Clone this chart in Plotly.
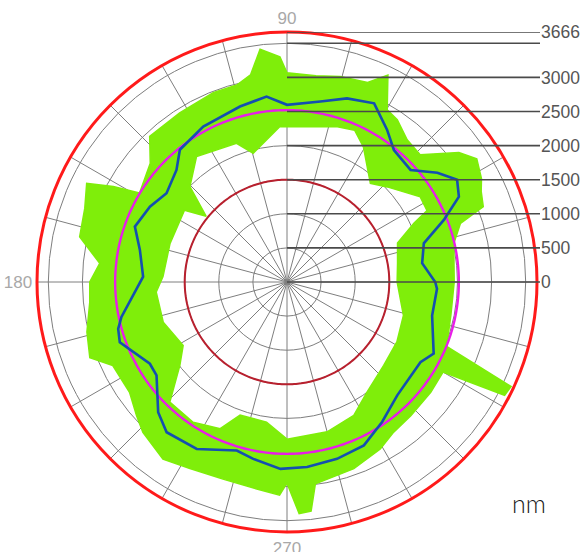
import numpy as np
import plotly.graph_objects as go

R_MAX = 3666
RADIAL_TICKS = [0, 500, 1000, 1500, 2000, 2500, 3000, 3500, 3666]
RADIAL_LABELS = ["0", "500", "1000", "1500", "2000", "2500", "3000", "", "3666"]
GRID_CIRCLES = [500, 1000, 1500, 2000, 2500, 3000, 3500]
ANGLE_LABELS = {90: "90", 180: "180", 270: "270"}

INNER_REF = 1500   # dark red reference circle
FIT_CIRCLE = 2520  # magenta fitted circle

# mean profile (blue)
blue_theta = [0, 7.9, 15.8, 21.6, 26.4, 31, 36, 42.2, 51, 56.7, 64, 71.9, 79.5, 90,
              96.3, 105, 118.3, 129, 134.6, 143.6, 151.2, 160, 167.7, 177.9, 191.9,
              195.5, 199.8, 210.8, 215.6, 225.3, 231.3, 241.6, 253.4, 259.2, 268,
              276.2, 285.8, 295.2, 304.2, 314.2, 329, 334, 347, 357.4, 360]
blue_r = [2173, 2001, 2085, 2474, 2814, 2910, 2725, 2446, 2491, 2672, 2915, 2833, 2692, 2598,
          2736, 2664, 2590, 2496, 2308, 2195, 2294, 2374, 2208, 2111, 2481,
          2569, 2606, 2341, 2353, 2686, 2823, 2783, 2579, 2641, 2742,
          2730, 2695, 2648, 2481, 2319, 2283, 2393, 2184, 2202, 2173]

# envelope of all individual profiles (green band)
outer_theta = [0, 13, 18.7, 21, 25, 28, 33, 37, 43.7, 49.8, 55.8, 59.8, 64, 68, 75.5, 82, 90,
               91.8, 96.6, 100, 104.3, 111.3, 122.4, 133.3, 139, 148.9, 151.2, 153.8, 160,
               167.7, 174.3, 180, 185.8, 194, 201, 205.6, 215, 221.6, 226.2, 235, 242.5, 252,
               261.7, 268, 270, 273, 276, 278, 289.7, 299.2, 305.4, 312.8, 322.5, 330, 332.5,
               335, 338, 348.5, 360]
outer_r = [2452, 2510, 2686, 3083, 3142, 3230, 3318, 3156, 2701, 2730, 2877, 2921, 3376, 3156, 3112, 3053, 3068,
           3303, 3435, 3083, 2980, 2980, 2936, 2936, 2657, 2525, 2907, 3274, 3156,
           3112, 2760, 2892, 2907, 3024, 3097, 2833, 2819, 2951, 3053, 3171, 3083, 3039,
           3068, 3127, 2950, 3400, 3380, 2990, 2907, 2804, 2701, 2672, 2657, 2642, 3597,
           3626, 2525, 2452, 2452]
inner_theta = [0, 9.6, 19.4, 24.9, 27, 32.6, 43.5, 49.8, 60.5, 66, 72, 90, 92.6, 104.7, 110,
               125.8, 135.5, 140.9, 145, 161.7, 177.5, 184.4, 198, 211.4, 217.9, 225.7, 236.2,
               245.5, 250.6, 261.7, 270, 285, 296.6, 306, 319.2, 331.4, 344, 360]
inner_r = [1615, 1644, 1718, 2055, 2305, 2319, 2026, 1894, 2275, 2437, 2393, 2275, 2283, 1952, 2165,
           2268, 1996, 1527, 1835, 1806, 1820, 1923, 1908, 1784, 1991, 2460, 2474,
           2363, 2070, 2077, 2305, 2275, 2187, 1996, 1873, 1835, 1776, 1615]

GREEN = "#7FEE0A"
BLUE = "#1450B0"
MAGENTA = "#E81EE8"
DARK_RED = "#B8202E"
RED = "#FF1A1A"
GRID = "#7E7E7E"

fig = go.Figure()

# green band
band_theta = outer_theta + inner_theta[::-1]
band_r = outer_r + inner_r[::-1]
fig.add_trace(go.Scatterpolar(theta=band_theta, r=band_r, mode="lines", fill="toself",
                              fillcolor=GREEN, line=dict(color=GREEN, width=1.5),
                              hoverinfo="skip", showlegend=False))

circle_theta = np.linspace(0, 360, 361)
fig.add_trace(go.Scatterpolar(theta=circle_theta, r=[INNER_REF] * len(circle_theta), mode="lines",
                              line=dict(color=DARK_RED, width=2), hoverinfo="skip", showlegend=False))
fig.add_trace(go.Scatterpolar(theta=circle_theta, r=[FIT_CIRCLE] * len(circle_theta), mode="lines",
                              line=dict(color=MAGENTA, width=2.4), hoverinfo="skip", showlegend=False))
fig.add_trace(go.Scatterpolar(theta=blue_theta, r=blue_r, mode="lines",
                              line=dict(color=BLUE, width=2.6), hoverinfo="skip", showlegend=False))

# invisible helper trace on the cartesian label axis
fig.add_trace(go.Scatter(x=[0, 1], y=[-R_MAX, R_MAX], mode="none", hoverinfo="skip",
                         showlegend=False, xaxis="x", yaxis="y"))

W, H = 582, 552
cx, cy, rad = 287, 270, 250
pol_x = [(cx - rad) / W, (cx + rad) / W]
pol_y = [(cy - rad) / H, (cy + rad) / H]

ang_ticks = list(range(0, 360, 15))
ang_text = [ANGLE_LABELS.get(a, "") for a in ang_ticks]

fig.update_layout(
    width=W, height=H,
    margin=dict(l=0, r=0, t=0, b=0, autoexpand=False),
    paper_bgcolor="white", plot_bgcolor="rgba(0,0,0,0)",
    showlegend=False,
    polar=dict(
        domain=dict(x=pol_x, y=pol_y),
        bgcolor="white",
        radialaxis=dict(range=[0, R_MAX], tickvals=GRID_CIRCLES, showticklabels=False,
                        ticks="", showline=False, gridcolor=GRID, gridwidth=1.2,
                        angle=0),
        angularaxis=dict(rotation=0, direction="counterclockwise",
                         tickmode="array", tickvals=ang_ticks, ticktext=ang_text,
                         ticks="", showline=True, linecolor=RED, linewidth=3,
                         gridcolor=GRID, gridwidth=1.2,
                         tickfont=dict(family="Liberation Sans", size=17, color="#A8A8A8")),
    ),
    xaxis=dict(domain=[cx / W, 540 / W], range=[0, 1], visible=False, fixedrange=True,
               automargin=False),
    yaxis=dict(domain=pol_y, range=[-R_MAX, R_MAX], anchor="x", side="right",
               tickmode="array", tickvals=RADIAL_TICKS, ticktext=RADIAL_LABELS,
               showgrid=False, zeroline=False, showline=False, ticks="",
               ticklabelstandoff=0, automargin=False,
               tickfont=dict(family="Liberation Sans", size=17.5, color="#555555")),
    annotations=[dict(text="nm", x=529 / W, y=(H - 503) / H, xref="paper", yref="paper",
                      xanchor="center", yanchor="middle",
                      showarrow=False, font=dict(family="Lato", size=25, color="#1A1A1A", weight=300))],
)

for v in RADIAL_TICKS:
    fig.add_shape(type="line", xref="paper", yref="y", x0=cx / W, x1=540 / W, y0=v, y1=v,
                  line=dict(color="#4A4A4A", width=1.6), layer="above")

fig.write_html("out.html", config={"displayModeBar": False},
               post_script="document.body.style.margin='0px';")
